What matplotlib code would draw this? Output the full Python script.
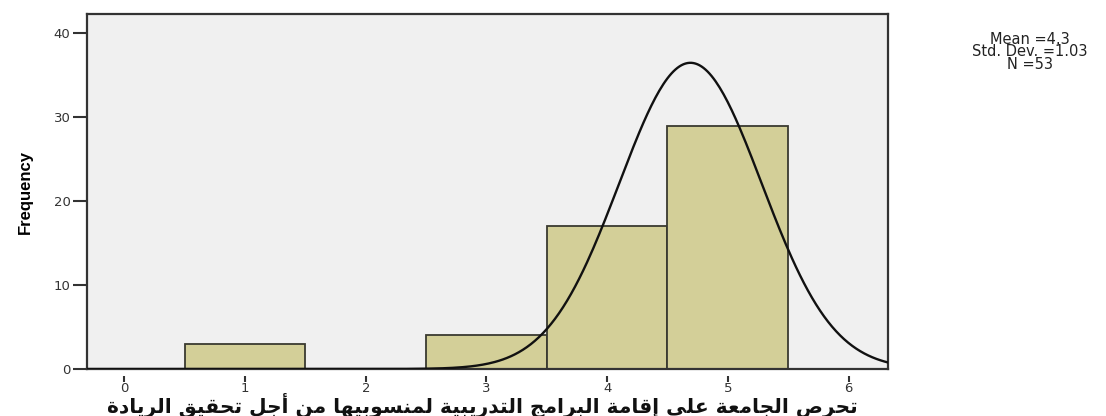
import matplotlib
matplotlib.use("Agg")
import matplotlib.pyplot as plt
import numpy as np

# histogram data (bin centres and counts)
bins = [1, 2, 3, 4, 5]
counts = [3, 0, 4, 17, 29]
x_ticks = [0, 1, 2, 3, 4, 5, 6]
y_ticks = [0, 10, 20, 30, 40]
stats_lines = ["Mean =4.3", "Std. Dev. =1.03", "N =53"]
x_label = "تحرص الجامعة على إقامة البرامج التدريبية لمنسوبيها من أجل تحقيق الريادة"

# normal curve as drawn in the chart (centre, spread, peak height)
curve_center = 4.69
curve_sd = 0.59
curve_peak = 36.5

# arabic presentation forms: isolated, final, initial, medial
FORMS = {
    "ا": ("\uFE8D", "\uFE8E"), "أ": ("\uFE83", "\uFE84"), "إ": ("\uFE87", "\uFE88"),
    "ة": ("\uFE93", "\uFE94"), "د": ("\uFEA9", "\uFEAA"), "ر": ("\uFEAD", "\uFEAE"),
    "و": ("\uFEED", "\uFEEE"), "ى": ("\uFEEF", "\uFEF0"),
    "ب": ("\uFE8F", "\uFE90", "\uFE91", "\uFE92"), "ت": ("\uFE95", "\uFE96", "\uFE97", "\uFE98"),
    "ج": ("\uFE9D", "\uFE9E", "\uFE9F", "\uFEA0"), "ح": ("\uFEA1", "\uFEA2", "\uFEA3", "\uFEA4"),
    "س": ("\uFEB1", "\uFEB2", "\uFEB3", "\uFEB4"), "ص": ("\uFEB9", "\uFEBA", "\uFEBB", "\uFEBC"),
    "ع": ("\uFEC9", "\uFECA", "\uFECB", "\uFECC"), "ق": ("\uFED5", "\uFED6", "\uFED7", "\uFED8"),
    "ل": ("\uFEDD", "\uFEDE", "\uFEDF", "\uFEE0"), "م": ("\uFEE1", "\uFEE2", "\uFEE3", "\uFEE4"),
    "ن": ("\uFEE5", "\uFEE6", "\uFEE7", "\uFEE8"), "ه": ("\uFEE9", "\uFEEA", "\uFEEB", "\uFEEC"),
    "ي": ("\uFEF1", "\uFEF2", "\uFEF3", "\uFEF4"),
}


def shape_arabic(s):
    out = []
    for i, c in enumerate(s):
        if c not in FORMS:
            out.append(c)
            continue
        prev = s[i - 1] if i > 0 else " "
        nxt = s[i + 1] if i + 1 < len(s) else " "
        join_prev = prev in FORMS and len(FORMS[prev]) == 4
        join_next = len(FORMS[c]) == 4 and nxt in FORMS
        f = FORMS[c]
        if join_prev and join_next:
            out.append(f[3])
        elif join_prev:
            out.append(f[1])
        elif join_next:
            out.append(f[2])
        else:
            out.append(f[0])
    return "".join(out)[::-1]


plt.rcParams["font.family"] = ["DejaVu Sans"]

fig = plt.figure(figsize=(11.06, 4.16), dpi=100)
ax = fig.add_axes([0.0787, 0.113, 0.7245, 0.853])
ax.set_facecolor("#f0f0f0")

ax.bar(bins, counts, width=1.0, color="#d3cf98", edgecolor="#3a3a30", linewidth=1.3, zorder=2)

xs = np.linspace(-0.31, 6.33, 400)
ys = curve_peak * np.exp(-0.5 * ((xs - curve_center) / curve_sd) ** 2)
ax.plot(xs, ys, color="#111111", linewidth=1.7, zorder=3)

ax.set_xlim(-0.31, 6.33)
ax.set_ylim(0, 42.3)
ax.set_yticks(y_ticks)
ax.set_xticks([])
ax.tick_params(axis="y", direction="out", length=10, width=1.5, color="#333333",
               labelsize=9.5, labelcolor="#333333", pad=2)
for sp in ax.spines.values():
    sp.set_color("#333333")
    sp.set_linewidth(1.6)

# x ticks sit a little below the axis line, like the SPSS output
secax = ax.secondary_xaxis(-0.02)
secax.set_xticks(x_ticks)
secax.spines["bottom"].set_visible(False)
secax.tick_params(axis="x", direction="out", length=4, width=1.5, color="#333333",
                  labelsize=9.5, labelcolor="#333333", pad=0)

ax.set_ylabel("Frequency", fontsize=12, fontweight="bold",
              family=["Liberation Sans Narrow", "Liberation Sans", "DejaVu Sans"], labelpad=15)
fig.text(0.436, 0.026, shape_arabic(x_label), ha="center", va="center",
         fontsize=14.5, fontweight="bold", color="#111111")

fig.text(0.931, 0.875, "\n".join(stats_lines), ha="center", va="center",
         fontsize=10.5, linespacing=0.82, color="#222222")

fig.savefig("out.png", dpi=100)
